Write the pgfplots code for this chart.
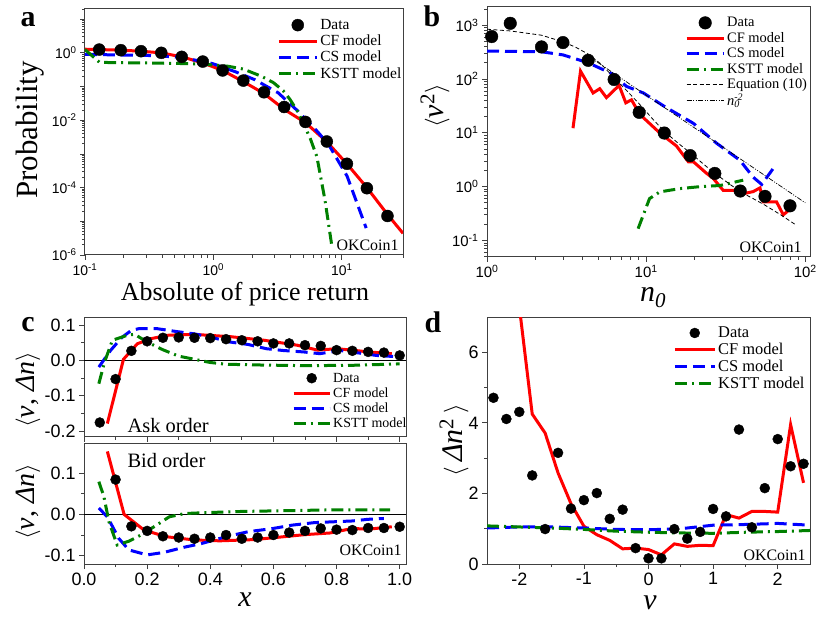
\documentclass[border=0pt]{standalone}
\usepackage{fontspec}
\setmainfont{Liberation Serif}
\setsansfont{Liberation Sans}
\usepackage{pgfplots}
\pgfplotsset{compat=1.18}
\definecolor{cfred}{RGB}{255,0,0}
\definecolor{csblue}{RGB}{0,0,255}
\definecolor{kgreen}{RGB}{0,128,0}
\newcommand{\fs}[1]{\fontsize{#1}{#1}\selectfont}
\newcommand{\fsl}[2]{\fontsize{#1}{#2}\selectfont}
\pgfplotsset{
  base/.style={scale only axis, anchor=south west,
    axis line style={black!75, line width=1bp},
    every tick/.style={black!75, line width=0.8bp},
    tick align=outside, tick pos=left,
    major tick length=5bp, minor tick length=3bp,
    /pgf/number format/assume math mode=true,
    legend cell align=left,
    legend style={draw=none, fill=none, inner sep=0pt, row sep=0pt},
  },
  leglen/.style={legend image code/.code={\draw[mark repeat=2,mark phase=2,##1] plot coordinates {(0bp,0bp) (#1bp/2,0bp) (#1bp,0bp)};}},
  dat/.style={only marks, mark=*, mark size=#1, black},
  cf/.style={cfred, line width=3bp, no marks},
  cs/.style={csblue, line width=3bp, dash pattern=on 12bp off 6bp, no marks},
  ks/.style={kgreen, line width=3bp, dash pattern=on 12bp off 5bp on 2bp off 5bp, no marks},
}
\begin{document}
\begin{tikzpicture}[x=1bp,y=1bp]
\path[use as bounding box] (0bp,0bp) rectangle (830bp,623bp);
% ---------------- panel a ----------------
\begin{axis}[base, at={(85bp,368bp)}, width=318bp, height=246bp,
  xmode=log, ymode=log, xmin=0.1, xmax=30, ymin=1e-6, ymax=20,
  xtick={0.1,1,10}, xticklabels={10\textsuperscript{-1},10\textsuperscript{0},10\textsuperscript{1}},
  minor xtick={0.2,0.3,0.4,0.5,0.6,0.7,0.8,0.9,2,3,4,5,6,7,8,9,20,30},
  ytick={1e-6,1e-5,1e-4,1e-3,1e-2,1e-1,1,10},
  yticklabels={10\textsuperscript{-6},,10\textsuperscript{-4},,10\textsuperscript{-2},,10\textsuperscript{0},},
  minor ytick={2e-6,3e-6,4e-6,5e-6,6e-6,7e-6,8e-6,9e-6,2e-5,3e-5,4e-5,5e-5,6e-5,7e-5,8e-5,9e-5,2e-4,3e-4,4e-4,5e-4,6e-4,7e-4,8e-4,9e-4,2e-3,3e-3,4e-3,5e-3,6e-3,7e-3,8e-3,9e-3,0.02,0.03,0.04,0.05,0.06,0.07,0.08,0.09,0.2,0.3,0.4,0.5,0.6,0.7,0.8,0.9,2,3,4,5,6,7,8,9,20},
  tick label style={font=\sffamily\fs{14}},
  xlabel={Absolute of price return}, ylabel={Probability},
  xlabel style={font=\fs{26}, at={(axis description cs:0.503,-0.183)}, anchor=base},
  ylabel style={font=\fs{31}, at={(axis description cs:-0.173,0.508)}, anchor=center},
  legend style={at={(axis description cs:0.604,0.967)}, anchor=north west, font=\fsl{15.5}{19.6}},
  leglen=38]
\addplot[dat=6bp] coordinates {(0.129,1.25)(0.19,1.2)(0.273,1.12)(0.393,1.0)(0.567,0.76)(0.827,0.55)(1.18,0.30)(1.71,0.15)(2.48,0.0675)(3.56,0.0247)(5.21,0.0089)(7.65,0.00234)(10.97,5.1e-4)(15.7,9.6e-5)(22.7,1.44e-5)};
\addlegendentry{Data}
\addplot[cf] coordinates {(0.1,1.28)(0.13,1.25)(0.19,1.2)(0.27,1.12)(0.39,1.0)(0.57,0.76)(0.83,0.5)(1.18,0.3)(1.71,0.14)(2.48,0.062)(3.56,0.021)(5.21,0.0085)(7.65,0.0023)(11,5e-4)(15.7,1e-4)(22.7,1.6e-5)(30,4.4e-6)};
\addlegendentry{CF model}
\addplot[cs] coordinates {(0.1,0.9)(0.2,0.86)(0.3,0.84)(0.5,0.76)(0.85,0.55)(1.0,0.47)(1.5,0.27)(2.1,0.16)(3.2,0.065)(4.6,0.018)(6.5,0.0045)(7.9,0.0019)(11,2.2e-4)(15.5,6.3e-6)};
\addlegendentry{CS model}
\addplot[ks] coordinates {(0.1,1.25)(0.13,0.52)(0.3,0.5)(0.6,0.48)(0.9,0.45)(1.3,0.4)(1.71,0.33)(2.38,0.2)(2.94,0.13)(3.5,0.075)(3.96,0.041)(4.5,0.019)(5.0,0.0083)(5.7,0.0028)(6.4,8.3e-4)(7.4,4.3e-5)(8.4,1.7e-6)};
\addlegendentry{KSTT model}
\node[anchor=base east, font=\fs{16}] at (rel axis cs:0.997,0.02) {OKCoin1};
\end{axis}
% ---------------- panel b ----------------
\begin{axis}[base, at={(487bp,366.3bp)}, width=323bp, height=250bp,
  xmode=log, ymode=log, xmin=1, xmax=107, ymin=0.05, ymax=2200,
  xtick={1,10,100}, xticklabels={10\textsuperscript{0},10\textsuperscript{1},10\textsuperscript{2}},
  minor xtick={2,3,4,5,6,7,8,9,20,30,40,50,60,70,80,90},
  ytick={0.1,1,10,100,1000},
  yticklabels={10\textsuperscript{-1},10\textsuperscript{0},10\textsuperscript{1},10\textsuperscript{2},10\textsuperscript{3}},
  minor ytick={0.05,0.06,0.07,0.08,0.09,0.2,0.3,0.4,0.5,0.6,0.7,0.8,0.9,2,3,4,5,6,7,8,9,20,30,40,50,60,70,80,90,200,300,400,500,600,700,800,900,2000},
  tick label style={font=\sffamily\fs{15}},
  xlabel={\textit{n}\textsubscript{\textit{0}}}, ylabel={$\langle$\textit{v}\textsuperscript{2}$\rangle$},
  xlabel style={font=\fs{30}, at={(axis description cs:0.514,-0.18)}, anchor=base},
  ylabel style={font=\fs{30}, at={(axis description cs:-0.161,0.603)}, anchor=center},
  legend style={at={(axis description cs:0.613,0.966)}, anchor=north west, font=\fsl{14.5}{18.5}},
  leglen=37]
\addplot[dat=6.3bp] coordinates {(1.07,613)(1.40,1080)(2.20,394)(3.0,474)(4.32,222)(6.29,97.7)(9.04,24)(13.0,9.9)(18.9,3.77)(27.0,1.76)(39.0,0.83)(55.8,0.66)(80.1,0.44)};
\addlegendentry{Data}
\addplot[cf] coordinates {(3.47,12.2)(3.87,140)(4.64,55)(5.11,66)(5.63,45)(6.76,76)(7.45,36)(8.09,41)(9.12,22)(12.2,9.9)(15.5,5.7)(18.4,2.9)(19.8,2.9)(24,1.76)(26.4,1.42)(30.5,0.85)(35.3,0.85)(41.7,0.75)(47.1,0.81)(51.9,0.95)(54.4,0.52)(66,0.52)(72.7,0.3)(80.1,0.38)};
\addlegendentry{CF model}
\addplot[cs] coordinates {(1,330)(2.2,320)(3,280)(4.32,200)(6.29,120)(7.5,73)(9.6,55)(13,31)(19.8,15)(27.7,6.4)(38.8,3.1)(47,1.5)(53.2,1.1)(63,2.2)};
\addlegendentry{CS model}
\addplot[ks] coordinates {(8.9,0.166)(10.5,0.6)(12.2,0.8)(16.3,0.92)(21.8,1.0)(29.1,1.05)(40.7,1.32)};
\addlegendentry{KSTT model}
\addplot[black, line width=0.8bp, dash pattern=on 4bp off 2.5bp, no marks] coordinates {(1,840)(1.4,780)(2.2,650)(3,490)(3.6,390)(4.32,290)(5.2,190)(6.29,105)(7.5,62)(9,35)(11,18)(13,10.6)(16,6.3)(19,4.2)(23,2.6)(27,1.76)(33,1.15)(39,0.8)(47,0.6)(56,0.45)(70,0.3)(86,0.2)};
\addlegendentry{Equation (10)}
\addplot[black, line width=0.7bp, dash pattern=on 5bp off 1.5bp on 1bp off 1.5bp on 1bp off 1.5bp, no marks] coordinates {(4.3,270)(100,0.5)};
\addlegendentry{\textit{n}\rlap{\textsubscript{\textit{0}}}{\fs{10}\raisebox{0.42em}{\textit{-2}}}}
\node[anchor=base east, font=\fs{16}] at (rel axis cs:0.985,0.015) {OKCoin1};
\end{axis}
% ---------------- panel c top ----------------
\begin{axis}[base, at={(84bp,186bp)}, width=322bp, height=119bp,
  xmin=0, xmax=1.02, ymin=-0.217, ymax=0.12,
  xtick={0,0.2,0.4,0.6,0.8,1.0}, minor x tick num=1, xticklabels={},
  ytick={-0.2,-0.1,0,0.1}, minor y tick num=1,
  yticklabel style={/pgf/number format/.cd, fixed, fixed zerofill, precision=1},
  tick label style={font=\sffamily\fs{18}},
  ylabel={$\langle$\textit{v}, \textit{Δn}$\rangle$},
  ylabel style={font=\fs{28}, at={(axis description cs:-0.174,0.395)}, anchor=center},
  legend style={at={(axis description cs:0.646,0.557)}, anchor=north west, font=\fsl{14}{17.5}},
  leglen=36]
\addplot[black, line width=0.8bp, forget plot] coordinates {(0,0)(1.02,0)};
\addplot[dat=5bp] coordinates {(0.05,-0.176)(0.1,-0.053)(0.15,0.027)(0.2,0.054)(0.25,0.064)(0.3,0.065)(0.35,0.064)(0.4,0.063)(0.45,0.06)(0.5,0.057)(0.55,0.054)(0.6,0.048)(0.65,0.048)(0.7,0.043)(0.75,0.041)(0.8,0.029)(0.85,0.027)(0.9,0.024)(0.95,0.022)(1.0,0.014)};
\addlegendentry{Data}
\addplot[cf] coordinates {(0.074,-0.179)(0.125,0.003)(0.169,0.047)(0.21,0.061)(0.264,0.071)(0.316,0.073)(0.36,0.073)(0.465,0.067)(0.57,0.057)(0.675,0.043)(0.74,0.029)(0.8,0.033)(0.85,0.029)(0.9,0.024)(0.975,0.019)};
\addlegendentry{CF model}
\addplot[cs] coordinates {(0.047,-0.019)(0.084,0.028)(0.12,0.065)(0.15,0.085)(0.175,0.09)(0.23,0.09)(0.29,0.082)(0.35,0.075)(0.41,0.064)(0.462,0.052)(0.52,0.045)(0.578,0.033)(0.63,0.028)(0.694,0.024)(0.747,0.019)(0.81,0.028)(0.87,0.021)(0.926,0.014)(0.979,0.011)};
\addlegendentry{CS model}
\addplot[ks] coordinates {(0.047,-0.066)(0.065,-0.005)(0.09,0.057)(0.137,0.071)(0.16,0.074)(0.2,0.052)(0.25,0.03)(0.3,0.012)(0.35,0.003)(0.4,-0.006)(0.45,-0.011)(0.55,-0.013)(0.7,-0.015)(0.85,-0.014)(1.0,-0.01)};
\addlegendentry{KSTT model}
\node[anchor=base west, font=\fs{20.5}] at (axis cs:0.127,-0.205) {Ask order};
\end{axis}
% ---------------- panel c bottom ----------------
\begin{axis}[base, at={(84bp,59bp)}, width=322bp, height=120bp,
  xmin=0, xmax=1.02, ymin=-0.12, ymax=0.17,
  xtick={0,0.2,0.4,0.6,0.8,1.0}, minor x tick num=1,
  ytick={-0.1,0,0.1}, minor y tick num=1,
  xticklabel style={/pgf/number format/.cd, fixed, fixed zerofill, precision=1},
  yticklabel style={/pgf/number format/.cd, fixed, fixed zerofill, precision=1},
  tick label style={font=\sffamily\fs{18}},
  xlabel={\textit{x}}, ylabel={$\langle$\textit{v}, \textit{Δn}$\rangle$},
  xlabel style={font=\fs{30}, at={(axis description cs:0.5,-0.358)}, anchor=base},
  ylabel style={font=\fs{28}, at={(axis description cs:-0.174,0.517)}, anchor=center}]
\addplot[black, line width=0.8bp, forget plot] coordinates {(0,0)(1.02,0)};
\addplot[dat=5bp] coordinates {(0.1,0.084)(0.15,-0.029)(0.2,-0.040)(0.25,-0.053)(0.3,-0.056)(0.35,-0.059)(0.4,-0.056)(0.45,-0.050)(0.5,-0.059)(0.55,-0.056)(0.6,-0.050)(0.65,-0.044)(0.7,-0.040)(0.75,-0.034)(0.8,-0.037)(0.85,-0.038)(0.9,-0.033)(0.95,-0.033)(1.0,-0.030)};
\addplot[cf] coordinates {(0.074,0.152)(0.127,0.0)(0.19,-0.038)(0.26,-0.054)(0.35,-0.062)(0.43,-0.064)(0.54,-0.061)(0.7,-0.049)(0.78,-0.045)(0.85,-0.034)(0.9,-0.036)(0.975,-0.030)};
\addplot[cs] coordinates {(0.047,0.015)(0.074,-0.006)(0.11,-0.058)(0.142,-0.086)(0.2,-0.098)(0.253,-0.092)(0.32,-0.079)(0.37,-0.071)(0.45,-0.054)(0.52,-0.042)(0.6,-0.034)(0.66,-0.026)(0.73,-0.02)(0.79,-0.018)(0.85,-0.016)(0.9,-0.012)(0.95,-0.01)};
\addplot[ks] coordinates {(0.047,0.079)(0.063,0.043)(0.079,-0.018)(0.105,-0.074)(0.142,-0.065)(0.18,-0.05)(0.23,-0.026)(0.27,-0.006)(0.32,0.002)(0.38,0.004)(0.5,0.007)(0.65,0.009)(0.8,0.011)(0.97,0.011)};
\node[anchor=base west, font=\fs{20.5}] at (axis cs:0.127,0.113) {Bid order};
\node[anchor=base east, font=\fs{16}] at (rel axis cs:0.997,0.067) {OKCoin1};
\end{axis}
% ---------------- panel d ----------------
\begin{axis}[base, at={(487bp,59bp)}, width=323bp, height=247bp,
  xmin=-2.5, xmax=2.5, ymin=0, ymax=7,
  xtick={-2,-1,0,1,2}, minor x tick num=1,
  ytick={0,2,4,6}, minor y tick num=1,
  tick label style={font=\sffamily\fs{18}},
  xlabel={\textit{v}}, ylabel={$\langle$\,\textit{Δn}\textsuperscript{2}\,$\rangle$},
  xlabel style={font=\fs{30}, at={(axis description cs:0.505,-0.186)}, anchor=base},
  ylabel style={font=\fs{30}, at={(axis description cs:-0.102,0.502)}, anchor=center},
  legend style={at={(axis description cs:0.576,0.969)}, anchor=north west, font=\fsl{16.5}{20.7}},
  leglen=40]
\addplot[dat=5bp] coordinates {(-2.4,4.71)(-2.2,4.11)(-2.0,4.31)(-1.8,2.51)(-1.6,0.99)(-1.4,3.15)(-1.2,1.57)(-1.0,1.81)(-0.8,2.01)(-0.6,1.28)(-0.4,1.54)(-0.2,0.45)(0,0.16)(0.2,0.16)(0.4,0.99)(0.6,0.72)(0.8,0.91)(1.0,1.56)(1.2,1.35)(1.4,3.81)(1.6,1.04)(1.8,2.15)(2.0,3.54)(2.2,2.77)(2.4,2.84)};
\addlegendentry{Data}
\addplot[cf] coordinates {(-2.0,7.3)(-1.8,4.25)(-1.6,3.71)(-1.4,2.58)(-1.2,1.71)(-1.0,1.07)(-0.8,0.83)(-0.6,0.67)(-0.4,0.43)(-0.2,0.45)(0,0.41)(0.2,0.26)(0.4,0.57)(0.6,0.50)(0.8,0.53)(1.0,0.52)(1.2,1.40)(1.4,1.30)(1.6,1.49)(1.8,1.49)(2.0,1.47)(2.2,3.95)(2.4,2.30)};
\addlegendentry{CF model}
\addplot[cs] coordinates {(-2.5,1.02)(-2,1.05)(-1.5,1.05)(-1,1.02)(-0.5,0.98)(0,0.97)(0.5,1.0)(1.0,1.1)(1.5,1.12)(2.0,1.15)(2.5,1.1)};
\addlegendentry{CS model}
\addplot[ks] coordinates {(-2.5,1.08)(-2,1.05)(-1.5,1.02)(-1,0.98)(-0.5,0.93)(0,0.9)(0.5,0.88)(1,0.87)(1.5,0.9)(2,0.92)(2.5,0.95)};
\addlegendentry{KSTT model}
\node[anchor=base east, font=\fs{16}] at (rel axis cs:0.997,0.013) {OKCoin1};
\end{axis}
% panel letters
\node[anchor=base, font=\bfseries\fs{30}] at (28bp,596bp) {a};
\node[anchor=base, font=\bfseries\fs{30}] at (432bp,596bp) {b};
\node[anchor=base, font=\bfseries\fs{30}] at (28bp,291bp) {c};
\node[anchor=base, font=\bfseries\fs{30}] at (433bp,290bp) {d};
\end{tikzpicture}
\end{document}
